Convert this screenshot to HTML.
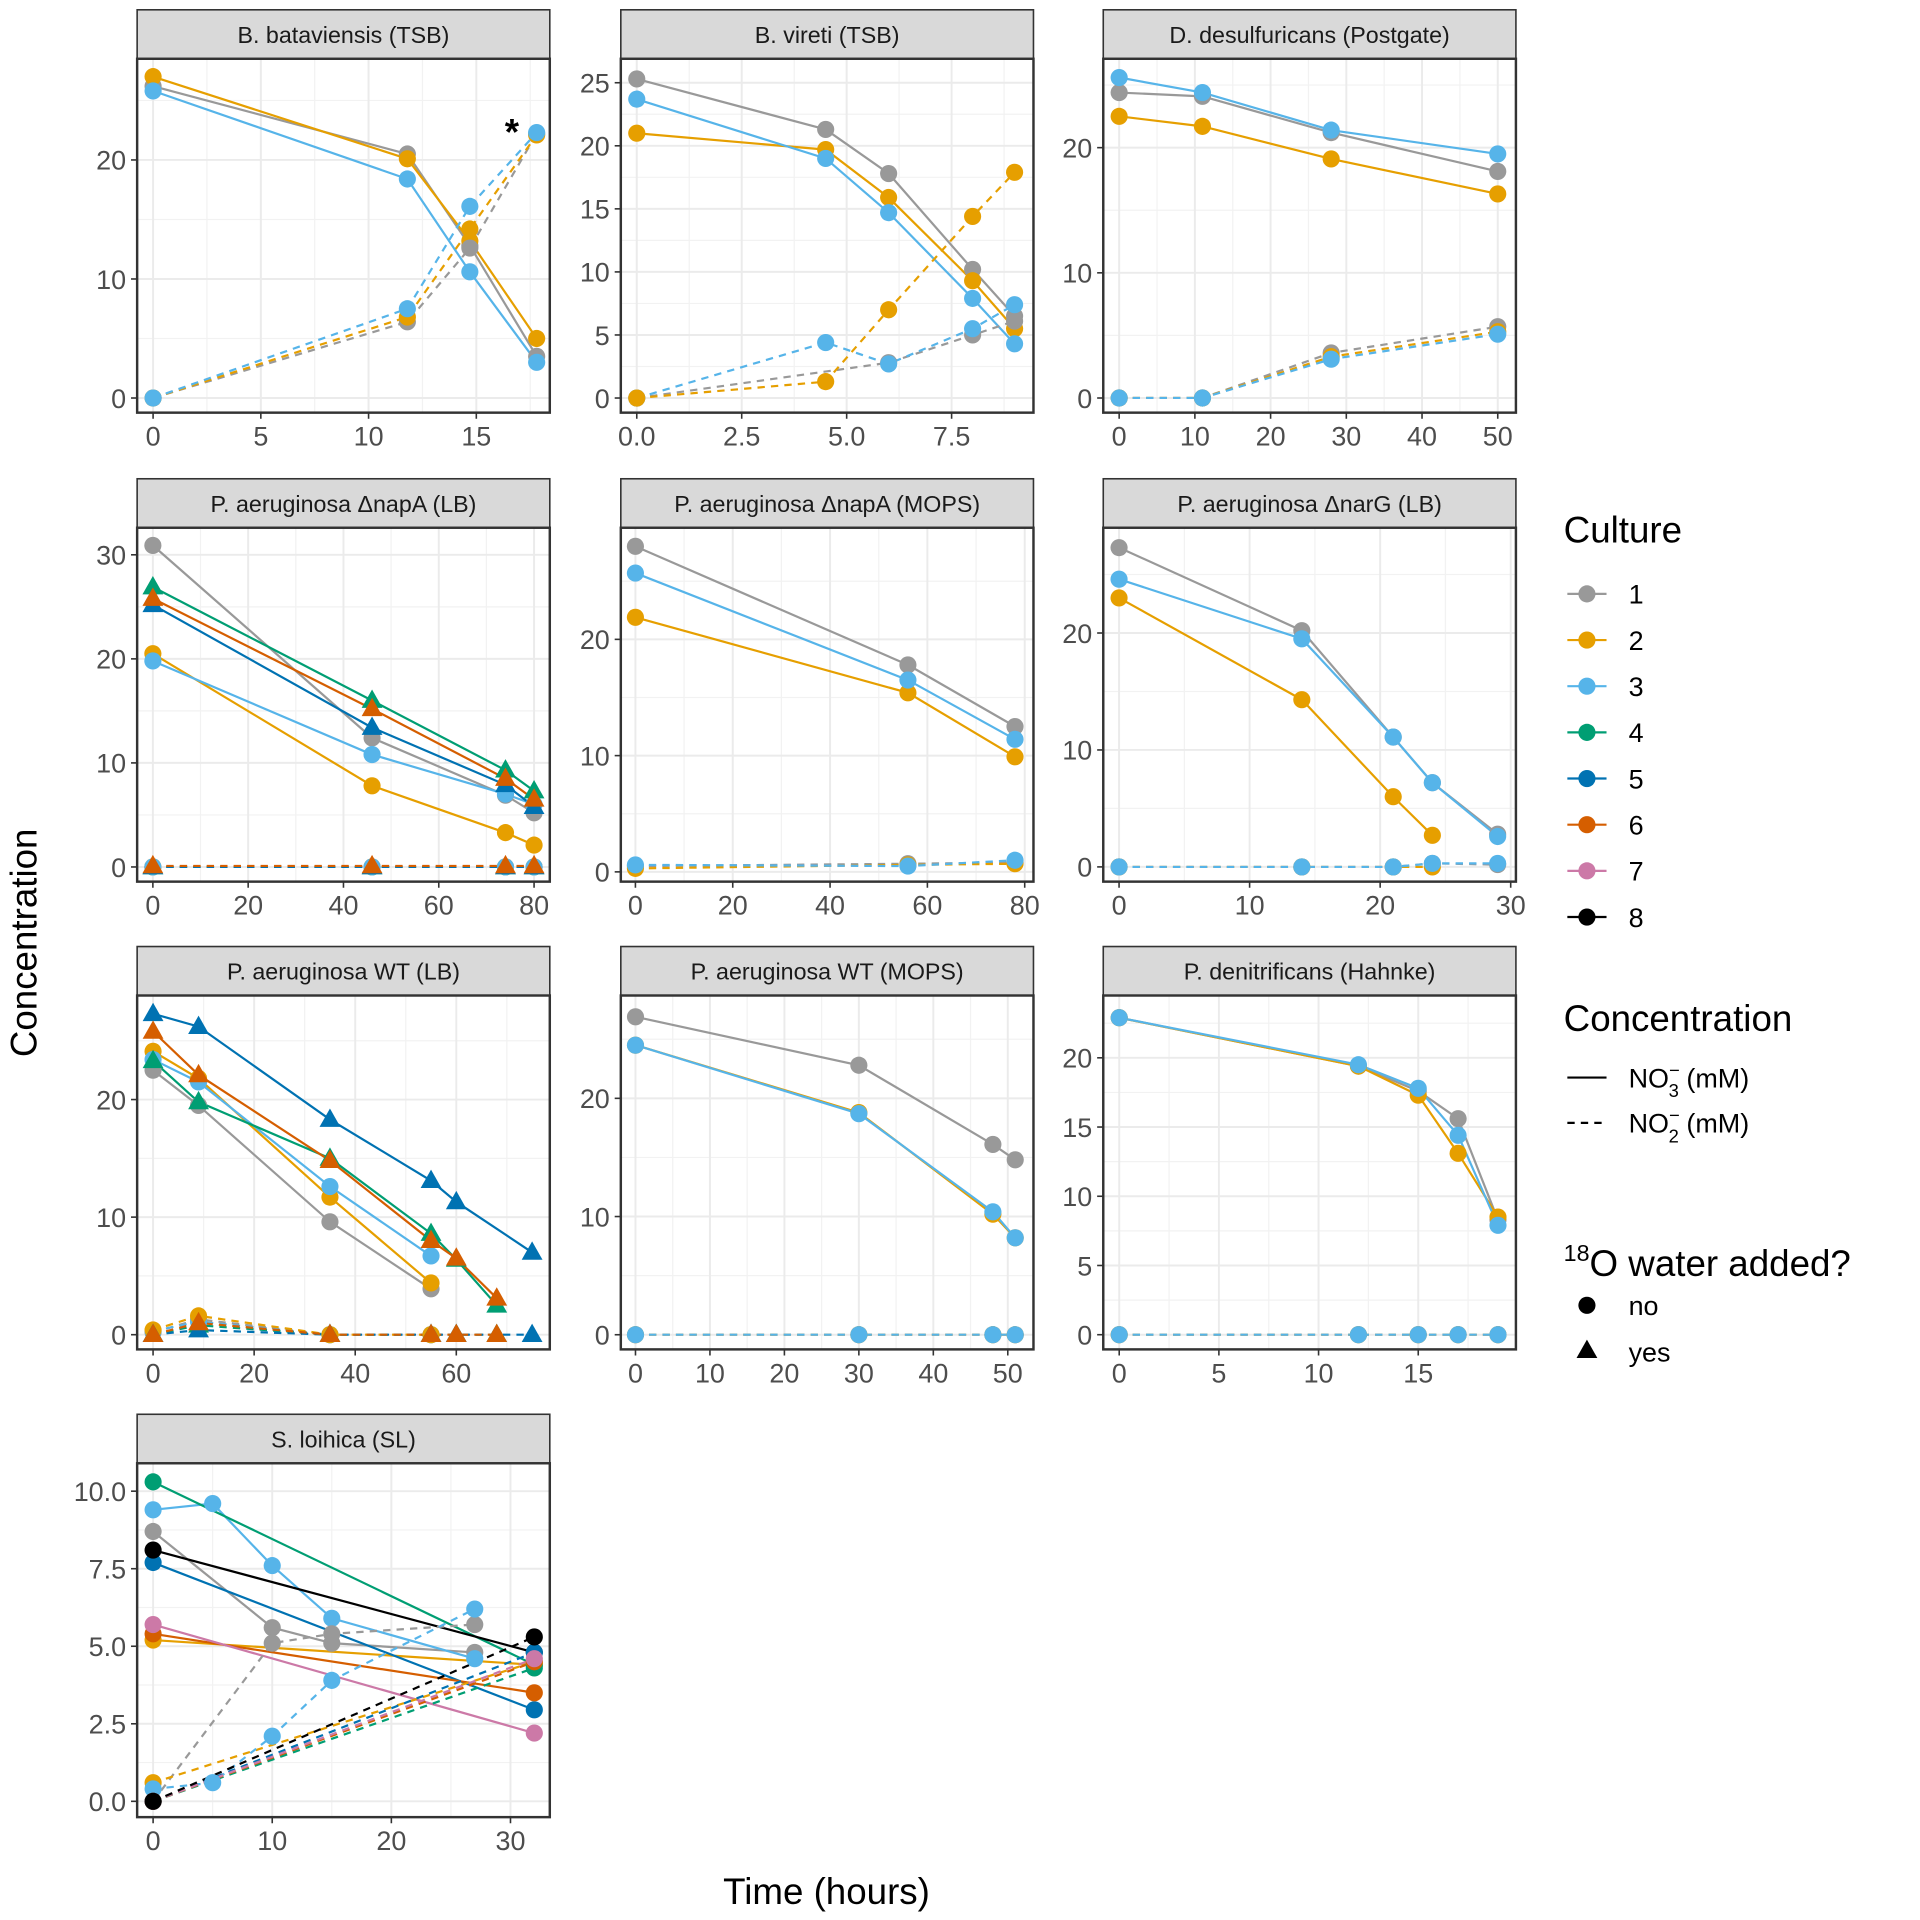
<!DOCTYPE html>
<html><head><meta charset="utf-8"><style>
html,body{margin:0;padding:0;background:#fff}
svg{display:block;font-family:"Liberation Sans",Arial,sans-serif}
</style></head><body>
<svg id="chart" width="1920" height="1920" viewBox="0 0 1568 1568" xmlns="http://www.w3.org/2000/svg">
<text x="0" y="0" transform="translate(30,770) rotate(-90)" text-anchor="middle" font-size="30" fill="#000">Concentration</text>
<text x="675" y="1555" text-anchor="middle" font-size="30" fill="#000">Time (hours)</text>
<g id="legend"></g>
</svg>
<script>
const panelTitles = ["B. bataviensis (TSB)","B. vireti (TSB)","D. desulfuricans (Postgate)","P. aeruginosa \u0394napA (LB)","P. aeruginosa \u0394napA (MOPS)","P. aeruginosa \u0394narG (LB)","P. aeruginosa WT (LB)","P. aeruginosa WT (MOPS)","P. denitrificans (Hahnke)","S. loihica (SL)"];
const xDomains = [[-0.74,18.41],[-0.38,9.45],[-2.1,52.4],[-3.3,83.3],[-3.0,81.8],[-1.21,30.4],[-3.15,78.5],[-1.97,53.45],[-0.8,19.9],[-1.34,33.3]];
const yDomains = [[-1.23,28.5],[-1.16,26.9],[-1.17,27.1],[-1.41,32.6],[-0.84,29.6],[-1.26,29.0],[-1.25,28.85],[-1.24,28.7],[-1.06,24.5],[-0.51,10.9]];
const xTicks = [[0,5,10,15],[0,2.5,5,7.5],[0,10,20,30,40,50],[0,20,40,60,80],[0,20,40,60,80],[0,10,20,30],[0,20,40,60],[0,10,20,30,40,50],[0,5,10,15],[0,10,20,30]];
const xTickLabels = [["0","5","10","15"],["0.0","2.5","5.0","7.5"],["0","10","20","30","40","50"],["0","20","40","60","80"],["0","20","40","60","80"],["0","10","20","30"],["0","20","40","60"],["0","10","20","30","40","50"],["0","5","10","15"],["0","10","20","30"]];
const yTicks = [[0,10,20],[0,5,10,15,20,25],[0,10,20],[0,10,20,30],[0,10,20],[0,10,20],[0,10,20],[0,10,20],[0,5,10,15,20],[0,2.5,5,7.5,10]];
const yTickLabels = [["0","10","20"],["0","5","10","15","20","25"],["0","10","20"],["0","10","20","30"],["0","10","20"],["0","10","20"],["0","10","20"],["0","10","20"],["0","5","10","15","20"],["0.0","2.5","5.0","7.5","10.0"]];
const cultureColors = ["#999999","#E69F00","#56B4E9","#009E73","#0072B2","#D55E00","#CC79A7","#000000"];
const seriesPanel = [];
const seriesCulture = [];
const seriesShape = [];
const seriesDashed = [];
const seriesX = [];
const seriesY = [];
function S(p,c,sh,d,xs,ys){seriesPanel.push(p);seriesCulture.push(c);seriesShape.push(sh);seriesDashed.push(d);seriesX.push(xs);seriesY.push(ys);}
S(0,1,'c',0,[0,11.8,14.7,17.8],[26.2,20.5,12.8,3.5]);
S(0,2,'c',0,[0,11.8,14.7,17.8],[27,20.1,13.2,5]);
S(0,3,'c',0,[0,11.8,14.7,17.8],[25.8,18.4,10.6,3.0]);
S(0,1,'c',1,[0,11.8,14.7,17.8],[0,6.4,12.6,22.2]);
S(0,2,'c',1,[0,11.8,14.7,17.8],[0,6.8,14.2,22.1]);
S(0,3,'c',1,[0,11.8,14.7,17.8],[0,7.5,16.1,22.3]);
S(1,1,'c',0,[0,4.5,6,8,9],[25.3,21.3,17.8,10.2,6.5]);
S(1,2,'c',0,[0,4.5,6,8,9],[21,19.7,15.9,9.3,5.5]);
S(1,3,'c',0,[0,4.5,6,8,9],[23.7,19,14.7,7.9,4.3]);
S(1,1,'c',1,[0,6,8,9],[0,2.8,5,6.1]);
S(1,3,'c',1,[0,4.5,6,8,9],[0,4.4,2.7,5.5,7.4]);
S(1,2,'c',1,[0,4.5,6,8,9],[0,1.3,7,14.4,17.9]);
S(2,1,'c',0,[0,11,28,50],[24.4,24.1,21.2,18.1]);
S(2,2,'c',0,[0,11,28,50],[22.5,21.7,19.1,16.3]);
S(2,3,'c',0,[0,11,28,50],[25.6,24.4,21.4,19.5]);
S(2,1,'c',1,[0,11,28,50],[0,0,3.6,5.7]);
S(2,2,'c',1,[0,11,28,50],[0,0,3.3,5.3]);
S(2,3,'c',1,[0,11,28,50],[0,0,3.1,5.1]);
S(3,1,'c',0,[0,46,74,80],[30.9,12.4,6.9,5.2]);
S(3,2,'c',0,[0,46,74,80],[20.5,7.8,3.3,2.1]);
S(3,3,'c',0,[0,46,74,80],[19.8,10.8,7.0,6.0]);
S(3,4,'t',0,[0,46,74,80],[26.9,16.0,9.3,7.3]);
S(3,5,'t',0,[0,46,74,80],[25.2,13.4,7.9,5.8]);
S(3,6,'t',0,[0,46,74,80],[25.8,15.2,8.5,6.5]);
S(3,1,'c',1,[0,46,74,80],[0,0,0,0]);
S(3,2,'c',1,[0,46,74,80],[0,0,0,0]);
S(3,3,'c',1,[0,46,74,80],[0,0,0,0]);
S(3,4,'t',1,[0,46,74,80],[0,0,0,0]);
S(3,5,'t',1,[0,46,74,80],[0,0,0,0]);
S(3,6,'t',1,[0,46,74,80],[0.1,0.1,0.1,0.1]);
S(4,1,'c',0,[0,56,78],[28,17.8,12.5]);
S(4,2,'c',0,[0,56,78],[21.9,15.4,9.9]);
S(4,3,'c',0,[0,56,78],[25.7,16.5,11.4]);
S(4,1,'c',1,[0,56,78],[0.5,0.7,0.8]);
S(4,2,'c',1,[0,56,78],[0.3,0.6,0.7]);
S(4,3,'c',1,[0,56,78],[0.6,0.5,1.0]);
S(5,1,'c',0,[0,14,21,24,29],[27.3,20.2,11.1,7.2,2.8]);
S(5,2,'c',0,[0,14,21,24],[23,14.3,6.0,2.7]);
S(5,3,'c',0,[0,14,21,24,29],[24.6,19.5,11.1,7.2,2.6]);
S(5,1,'c',1,[0,14,21,24,29],[0,0,0,0.3,0.2]);
S(5,2,'c',1,[0,14,21,24],[0,0,0,0]);
S(5,3,'c',1,[0,14,21,24,29],[0,0,0,0.3,0.3]);
S(6,1,'c',0,[0,9,35,55],[22.5,19.5,9.6,3.9]);
S(6,2,'c',0,[0,9,35,55],[24.1,21.8,11.7,4.4]);
S(6,3,'c',0,[0,9,35,55],[23.4,21.5,12.6,6.7]);
S(6,4,'t',0,[0,9,35,55,60,68],[23.3,19.8,15.0,8.6,6.4,2.5]);
S(6,5,'t',0,[0,9,35,55,60,75],[27.3,26.2,18.3,13.1,11.3,7.0]);
S(6,6,'t',0,[0,9,35,55,60,68],[25.8,22.1,14.8,8.0,6.5,3.1]);
S(6,1,'c',1,[0,9,35,55],[0.2,1.3,0,0]);
S(6,3,'c',1,[0,9,35,55],[0.3,1.1,0,0]);
S(6,2,'c',1,[0,9,35,55],[0.4,1.6,0,0]);
S(6,4,'t',1,[0,9,35,55,60,68],[0,0.8,0,0,0,0]);
S(6,5,'t',1,[0,9,35,55,60,75],[0,0.4,0,0,0,0]);
S(6,6,'t',1,[0,9,35,55,60,68],[0,1.0,0,0,0,0]);
S(7,1,'c',0,[0,30,48,51],[26.9,22.8,16.1,14.8]);
S(7,2,'c',0,[0,30,48,51],[24.5,18.8,10.2,8.2]);
S(7,3,'c',0,[0,30,48,51],[24.5,18.7,10.4,8.2]);
S(7,1,'c',1,[0,30,48,51],[0,0,0,0]);
S(7,2,'c',1,[0,30,48,51],[0,0,0,0]);
S(7,3,'c',1,[0,30,48,51],[0,0,0,0]);
S(8,1,'c',0,[0,12,15,17,19],[22.9,19.4,17.6,15.6,8.3]);
S(8,2,'c',0,[0,12,15,17,19],[22.9,19.4,17.3,13.1,8.5]);
S(8,3,'c',0,[0,12,15,17,19],[22.9,19.5,17.8,14.4,7.9]);
S(8,1,'c',1,[0,12,15,17,19],[0,0,0,0,0]);
S(8,2,'c',1,[0,12,15,17,19],[0,0,0,0,0]);
S(8,3,'c',1,[0,12,15,17,19],[0,0,0,0,0]);
S(9,1,'c',0,[0,10,15,27],[8.7,5.6,5.1,4.8]);
S(9,2,'c',0,[0,32],[5.2,4.4]);
S(9,3,'c',0,[0,5,10,15,27],[9.4,9.6,7.6,5.9,4.6]);
S(9,4,'c',0,[0,32],[10.3,4.4]);
S(9,5,'c',0,[0,32],[7.7,2.95]);
S(9,6,'c',0,[0,32],[5.4,3.5]);
S(9,7,'c',0,[0,32],[5.7,2.2]);
S(9,8,'c',0,[0,32],[8.1,4.8]);
S(9,1,'c',1,[0,10,15,27],[0,5.1,5.4,5.7]);
S(9,2,'c',1,[0,32],[0.6,4.5]);
S(9,3,'c',1,[0,5,10,15,27],[0.4,0.6,2.1,3.9,6.2]);
S(9,4,'c',1,[0,32],[0,4.3]);
S(9,5,'c',1,[0,32],[0,4.8]);
S(9,6,'c',1,[0,32],[0,4.5]);
S(9,7,'c',1,[0,32],[0,4.6]);
S(9,8,'c',1,[0,32],[0,5.3]);

const NS="http://www.w3.org/2000/svg";
const svg=document.getElementById('chart');
function el(tag,attrs,parent){const e=document.createElementNS(NS,tag);for(const k in attrs)e.setAttribute(k,attrs[k]);(parent||svg).appendChild(e);return e;}
const colX=[112,507,901], colW=337, rowY=[8,391,773,1155], stripH=40, panelH=289;
const panels=[];
for(let p=0;p<10;p++){
  const cx=colX[p%3], sy=rowY[Math.floor(p/3)], py=sy+stripH;
  const g=el('g',{});
  
  
  const xd=xDomains[p], yd=yDomains[p];
  const X=v=>cx+(v-xd[0])/(xd[1]-xd[0])*colW;
  const Y=v=>py+panelH-(v-yd[0])/(yd[1]-yd[0])*panelH;
  el('rect',{x:cx,y:py,width:colW,height:panelH,fill:'#fff'},g);
  const xt=xTicks[p], yt=yTicks[p];
  const xs=xt[1]-xt[0], ys=yt[1]-yt[0];
  for(let v=xt[0]-xs/2;v<=xd[1];v+=xs){ if(v>=xd[0]) el('line',{x1:X(v),x2:X(v),y1:py,y2:py+panelH,stroke:'#F2F2F2','stroke-width':1},g);}
  for(let v=yt[0]-ys/2;v<=yd[1];v+=ys){ if(v>=yd[0]) el('line',{x1:cx,x2:cx+colW,y1:Y(v),y2:Y(v),stroke:'#F2F2F2','stroke-width':1},g);}
  xt.forEach((v,i)=>{
    el('line',{x1:X(v),x2:X(v),y1:py,y2:py+panelH,stroke:'#EBEBEB','stroke-width':1.6},g);
    el('line',{x1:X(v),x2:X(v),y1:py+panelH,y2:py+panelH+5,stroke:'#333','stroke-width':1.3},g);
    const t=el('text',{x:X(v),y:py+panelH+27,'text-anchor':'middle','font-size':22,fill:'#4D4D4D'},g);
    
    
    t.textContent=xTickLabels[p][i];
  });
  yt.forEach((v,i)=>{
    el('line',{x1:cx,x2:cx+colW,y1:Y(v),y2:Y(v),stroke:'#EBEBEB','stroke-width':1.6},g);
    el('line',{x1:cx-5,x2:cx,y1:Y(v),y2:Y(v),stroke:'#333','stroke-width':1.3},g);
    const t=el('text',{x:cx-9,y:Y(v)+8,'text-anchor':'end','font-size':22,fill:'#4D4D4D'},g);
    
    
    t.textContent=yTickLabels[p][i];
  });
  const strip=el('rect',{x:cx,y:sy,width:colW,height:stripH,fill:'#D9D9D9',stroke:'#333','stroke-width':1.3},g);
  
  
  const st=el('text',{x:cx+colW/2,y:sy+27,'text-anchor':'middle','font-size':19,fill:'#1A1A1A'},g);
  
  
  st.textContent=panelTitles[p];
  panels.push({g,X,Y,cx,py});
}
for(let s=0;s<seriesX.length;s++){
  const P=panels[seriesPanel[s]], col=cultureColors[seriesCulture[s]-1];
  const pts=seriesX[s].map((x,i)=>P.X(x).toFixed(1)+','+P.Y(seriesY[s][i]).toFixed(1)).join(' ');
  const l=el('polyline',{points:pts,fill:'none',stroke:col,'stroke-width':1.8,'stroke-dasharray':seriesDashed[s]?'6 5':'none'},P.g);
  
  
}
for(let s=0;s<seriesX.length;s++){
  const P=panels[seriesPanel[s]], col=cultureColors[seriesCulture[s]-1];
  seriesX[s].forEach((x,i)=>{
    const px=P.X(x), py=P.Y(seriesY[s][i]);
    let m;
    if(seriesShape[s]==='c') m=el('circle',{cx:px,cy:py,r:7,fill:col},P.g);
    else m=el('polygon',{points:`${px},${py-9} ${px-8.5},${py+6} ${px+8.5},${py+6}`,fill:col},P.g);
    
    
  });
}
panels.forEach(P=>{el('rect',{x:P.cx,y:P.py,width:colW,height:panelH,fill:'none',stroke:'#333','stroke-width':2},P.g);});
const ast=el('text',{x:418,y:118,'text-anchor':'middle','font-size':30,'font-weight':'bold',fill:'#000'});


ast.textContent='*';
const lg=document.getElementById('legend');
function txt(x,y,s,fs,name){const t=el('text',{x:x,y:y,'font-size':fs,fill:'#000'},lg);t.innerHTML=s;return t;}
txt(1277,443,'Culture',30,'legend-title-culture');
for(let i=0;i<8;i++){
  const y=485+i*37.7;
  const e=el('g',{},lg);
  
  
  el('line',{x1:1280,x2:1312,y1:y,y2:y,stroke:cultureColors[i],'stroke-width':1.8},e);
  el('circle',{cx:1296,cy:y,r:7,fill:cultureColors[i]},e);
  const t=el('text',{x:1330,y:y+8,'font-size':22,fill:'#000'},e);t.textContent=String(i+1);
}
txt(1277,842,'Concentration',30,'legend-title-concentration');
el('line',{x1:1280,x2:1312,y1:880,y2:880,stroke:'#000','stroke-width':1.8},lg);
el('line',{x1:1280,x2:1312,y1:917,y2:917,stroke:'#000','stroke-width':1.8,'stroke-dasharray':'6 5'},lg);
txt(1330,888,'NO<tspan font-size="15" dy="-9">\u2212</tspan><tspan font-size="15" dx="-9" dy="17">3</tspan><tspan dy="-8"> (mM)</tspan>',22,'legend-entry-no3');
txt(1330,925,'NO<tspan font-size="15" dy="-9">\u2212</tspan><tspan font-size="15" dx="-9" dy="17">2</tspan><tspan dy="-8"> (mM)</tspan>',22,'legend-entry-no2');
txt(1277,1042,'<tspan font-size="19" dy="-12">18</tspan><tspan dy="12">O water added?</tspan>',30,'legend-title-water');
el('circle',{cx:1296,cy:1066,r:7,fill:'#000'},lg);
el('polygon',{points:'1296,1094 1287.5,1109 1304.5,1109',fill:'#000'},lg);
txt(1330,1074,'no',22,'legend-entry-no');
txt(1330,1112,'yes',22,'legend-entry-yes');
</script>
</body></html>
